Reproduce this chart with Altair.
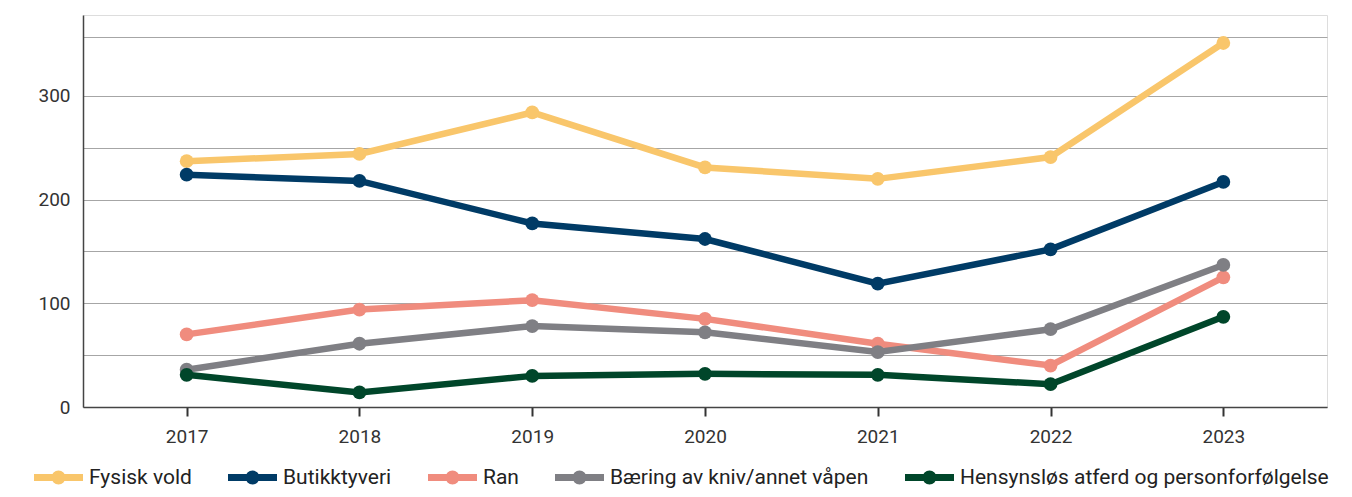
import altair as alt
import pandas as pd

years = ["2017", "2018", "2019", "2020", "2021", "2022", "2023"]
series_names = [
    "Fysisk vold",
    "Butikktyveri",
    "Ran",
    "Bæring av kniv/annet våpen",
    "Hensynsløs atferd og personforfølgelse",
]
fysisk_vold = [237, 244, 284, 231, 220, 241, 351]
butikktyveri = [224, 218, 177, 162, 119, 152, 217]
ran = [70, 94, 103, 85, 61, 40, 125]
baering = [36, 61, 78, 72, 53, 75, 137]
hensynslos = [31, 14, 30, 32, 31, 22, 87]
colors = ["#F9C66B", "#003B66", "#F08C7E", "#7F7F84", "#00462A"]
y_ticks = [0, 50, 100, 150, 200, 250, 300, 357]

values = [fysisk_vold, butikktyveri, ran, baering, hensynslos]
rows = []
for si, (name, vals) in enumerate(zip(series_names, values)):
    for y, v in zip(years, vals):
        rows.append({"year": y, "series": name, "value": v, "order": si})
df = pd.DataFrame(rows)

FONT = "Roboto"

legend_path = (
    "M-0.98,0 H0.98 "
    "M-0.14,0 A0.14,0.14 0 1,1 0.14,0 A0.14,0.14 0 1,1 -0.14,0"
)

x_enc = alt.X(
    "year:N",
    scale=alt.Scale(type="point", padding=0.6),
    axis=alt.Axis(
        title=None,
        labelAngle=0,
        labelFontSize=19,
        labelColor="#333333",
        labelFont=FONT,
        tickSize=9,
        tickWidth=2,
        tickColor="#333333",
        labelPadding=11,
        domainColor="#444444",
        domainWidth=1.5,
        grid=False,
    ),
)
y_enc = alt.Y(
    "value:Q",
    scale=alt.Scale(domain=[0, 378], nice=False, zero=True),
    axis=alt.Axis(
        title=None,
        values=y_ticks,
        labelExpr="(datum.value % 100 == 0) ? datum.label : ''",
        labelFontSize=19,
        labelColor="#333333",
        labelFont=FONT,
        ticks=False,
        labelPadding=13,
        domainColor="#444444",
        domainWidth=1.5,
        grid=True,
        gridColor="#A6A6A6",
        gridWidth=1,
    ),
)
color_enc = alt.Color(
    "series:N",
    scale=alt.Scale(domain=series_names, range=colors),
    sort=series_names,
    legend=alt.Legend(
        title=None,
        orient="none",
        direction="horizontal",
        legendX=-53,
        legendY=434,
        symbolType=legend_path,
        symbolSize=2500,
        symbolStrokeWidth=7,
        labelFontSize=21,
        labelFont=FONT,
        labelColor="#222222",
        labelOffset=2,
        labelLimit=1000,
        columnPadding=22,
    ),
)

lines = alt.Chart(df).mark_line(strokeWidth=6.5).encode(
    x=x_enc, y=y_enc, color=color_enc, order="order:Q"
)
points = alt.Chart(df).mark_point(filled=True, size=190, opacity=1).encode(
    x=x_enc, y=y_enc, color=color_enc
)

chart = (
    alt.layer(lines, points)
    .properties(
        width=1244,
        height=392,
        autosize=alt.AutoSizeParams(type="none"),
        padding={"left": 75, "top": 7, "right": 17, "bottom": 82},
    )
    .configure_view(stroke=None)
    .configure(font=FONT)
)

chart.save("out.html", embed_options={"renderer": "svg", "actions": False})
